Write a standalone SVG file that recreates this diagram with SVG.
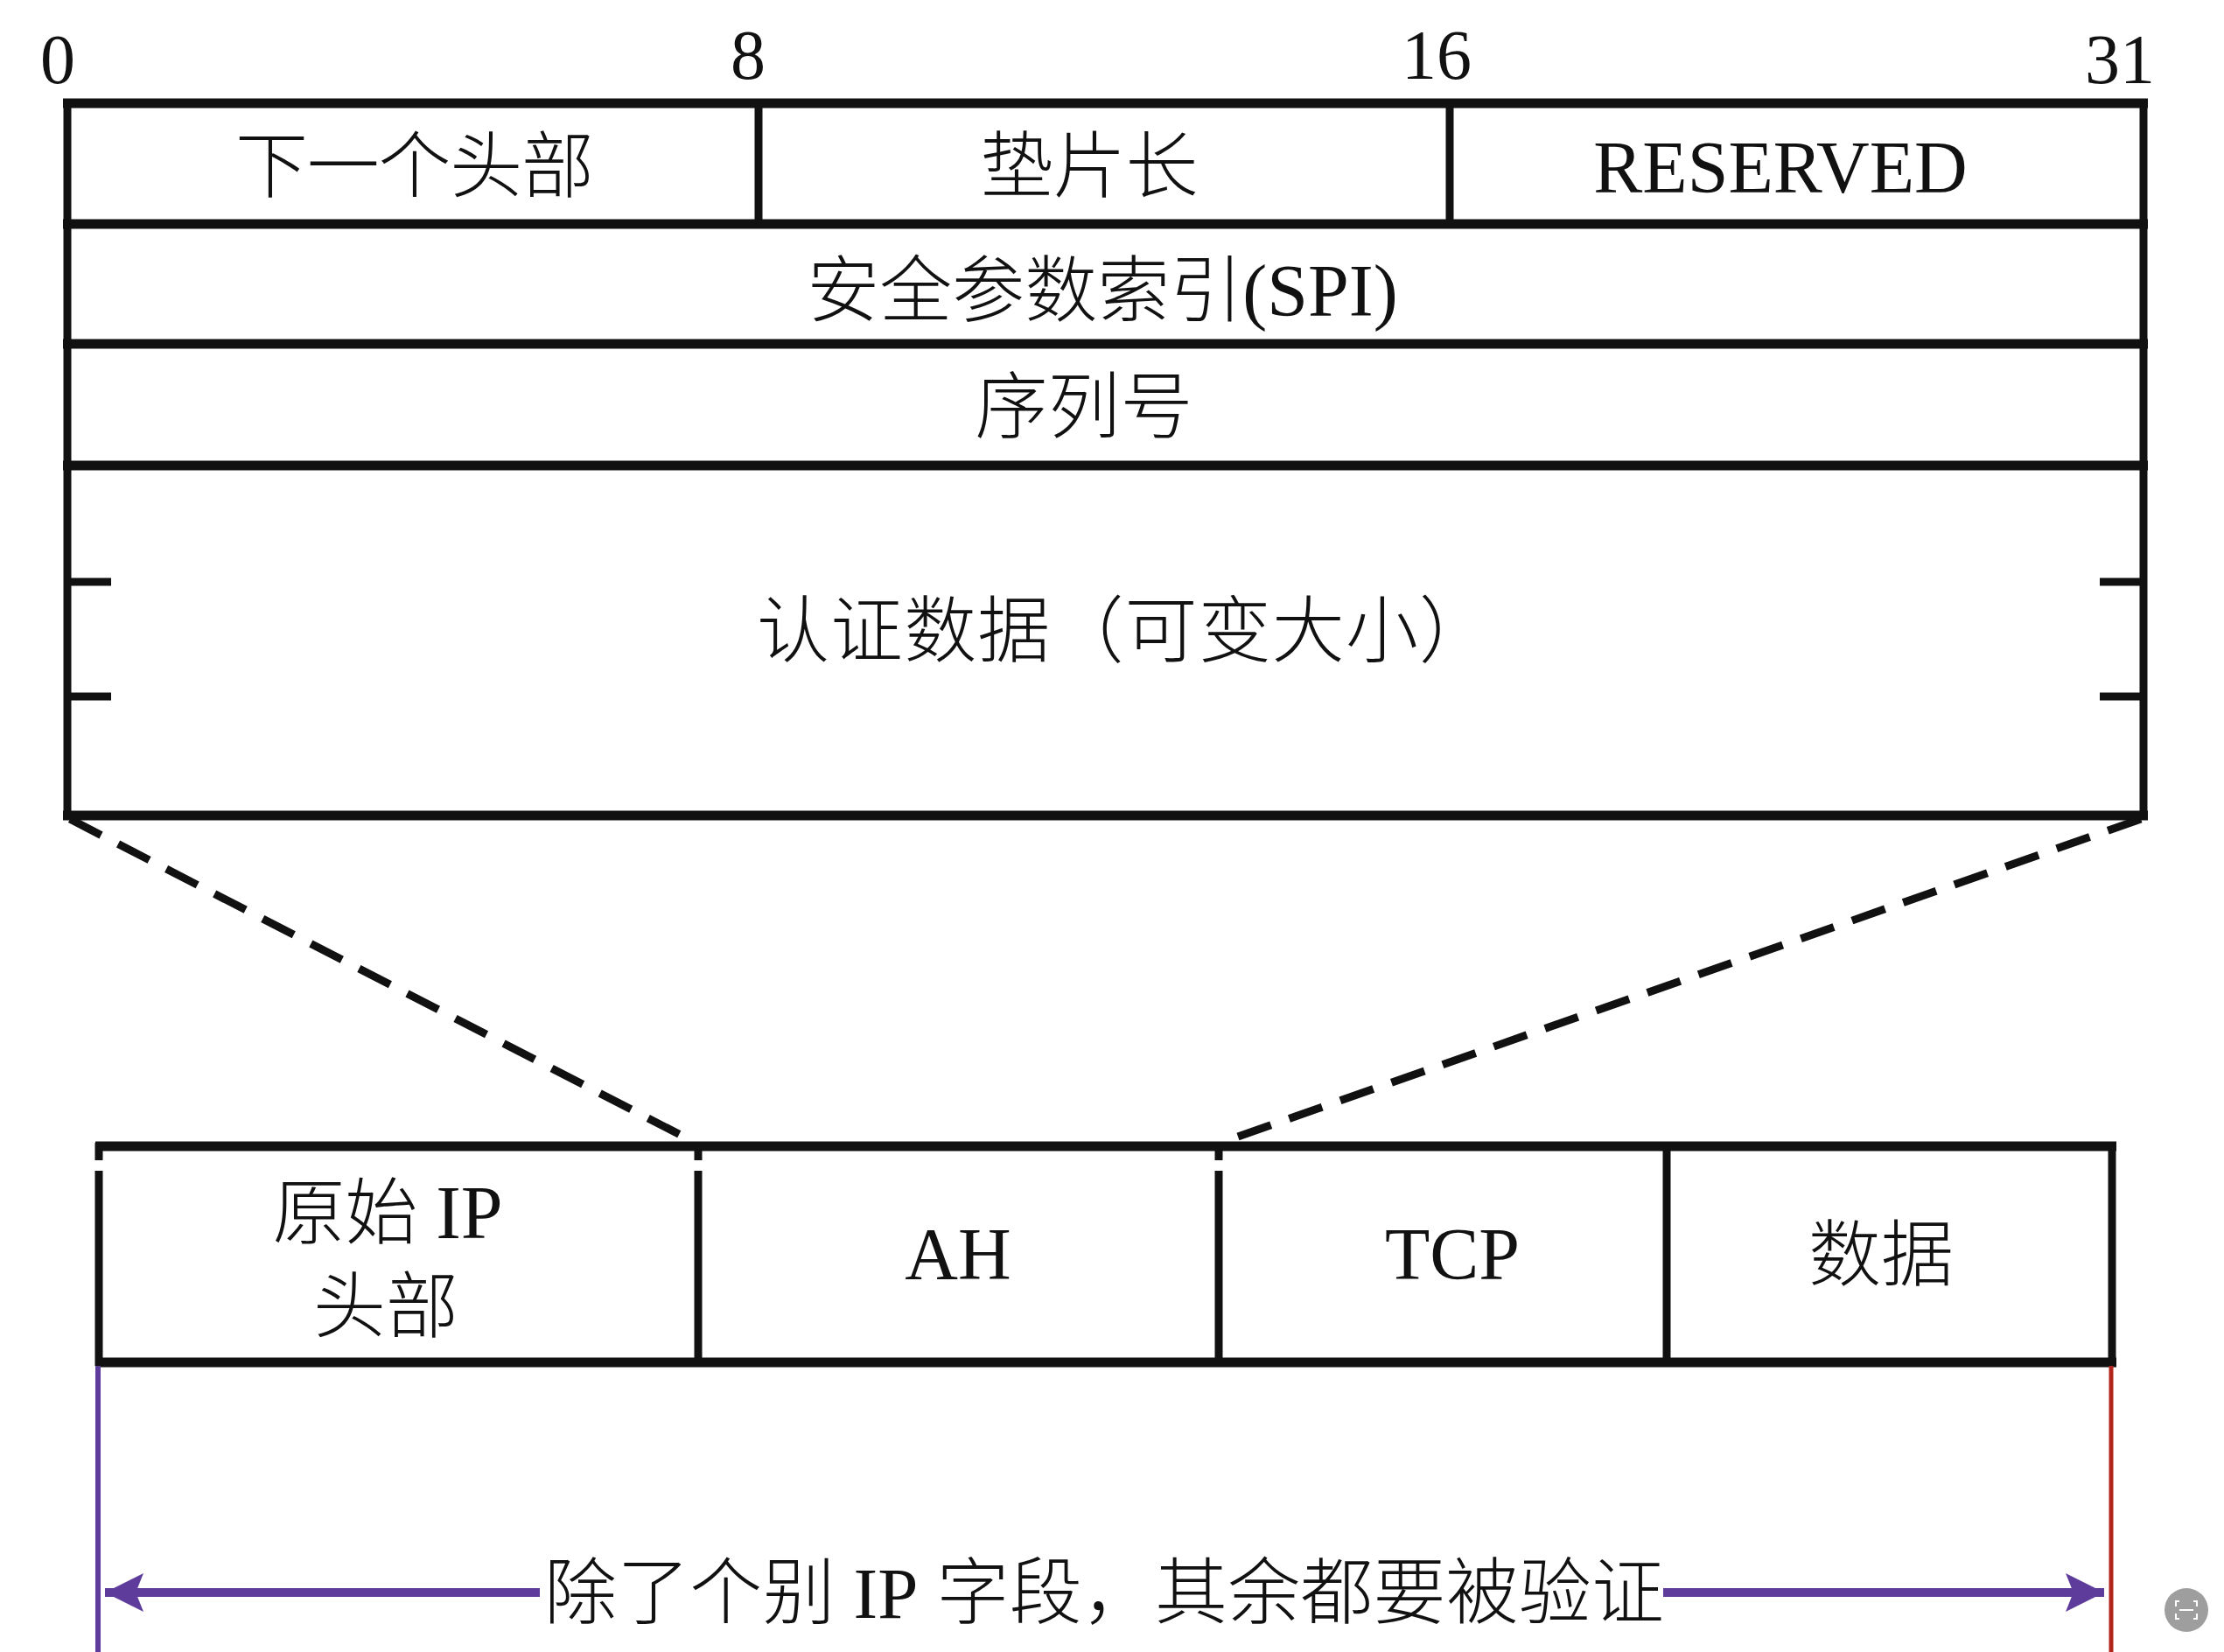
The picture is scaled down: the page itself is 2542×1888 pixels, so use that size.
<svg xmlns="http://www.w3.org/2000/svg" width="2542" height="1888" viewBox="0 0 2542 1888">
<style>
.cjk{font-family:"Liberation Serif","Noto Sans CJK SC",serif;font-weight:300;font-size:83px;fill:#111;text-anchor:middle}
.num{font-family:"Liberation Serif",serif;font-size:80px;fill:#111;text-anchor:middle}
.lat{font-family:"Liberation Serif",serif;font-size:84px;fill:#111;text-anchor:middle}
.h{stroke:#111;stroke-width:11;fill:none}
.v{stroke:#111;stroke-width:9;fill:none}
.dash{stroke:#111;stroke-width:9;stroke-dasharray:40 22;fill:none}
</style>
<defs>
<marker id="ah" viewBox="0 0 10 10" refX="10" refY="5" markerWidth="4.4" markerHeight="4.4" orient="auto-start-reverse" markerUnits="strokeWidth">
<path d="M0,0 L10,5 L0,10 L2,5 Z" fill="#5E3C9C"/>
</marker>
</defs>
<rect width="2542" height="1888" fill="#fff"/>

<g id="bit-labels">
<text class="num" x="66" y="95">0</text>
<text class="num" x="855" y="90">8</text>
<text class="num" x="1642" y="90">16</text>
<text class="num" x="2423" y="95">31</text>
</g>

<g id="ah-header">
<line class="h" x1="72" y1="118" x2="2455" y2="118"/>
<line class="h" x1="72" y1="256" x2="2455" y2="256"/>
<line class="h" x1="72" y1="393" x2="2455" y2="393"/>
<line class="h" x1="72" y1="532" x2="2455" y2="532"/>
<line class="h" x1="72" y1="932" x2="2455" y2="932"/>
<line class="v" x1="77" y1="114" x2="77" y2="936"/>
<line class="v" x1="2450" y1="114" x2="2450" y2="936"/>
<line class="v" x1="867" y1="118" x2="867" y2="256"/>
<line class="v" x1="1657" y1="118" x2="1657" y2="256"/>
<line class="v" x1="77" y1="665" x2="127" y2="665"/>
<line class="v" x1="77" y1="796" x2="127" y2="796"/>
<line class="v" x1="2400" y1="665" x2="2450" y2="665"/>
<line class="v" x1="2400" y1="796" x2="2450" y2="796"/>
</g>

<g id="field-next-header"><text class="cjk" x="474" y="219" textLength="410" lengthAdjust="spacing">下一个头部</text></g>
<g id="field-pad-len"><text class="cjk" x="1245" y="219">垫片长</text></g>
<g id="field-reserved"><text class="lat" x="2035" y="220">RESERVED</text></g>
<g id="field-spi"><text class="cjk" x="1260" y="361">安全参数索引<tspan font-family="Liberation Serif" font-weight="400" font-size="84">(SPI)</tspan></text></g>
<g id="field-seq"><text class="cjk" x="1239" y="494">序列号</text></g>
<g id="field-auth"><text class="cjk" x="1285" y="750" textLength="840" lengthAdjust="spacing">认证数据（可变大小）</text></g>

<g id="connectors">
<line class="dash" x1="80" y1="936" x2="795" y2="1306"/>
<line class="dash" x1="2447" y1="936" x2="1395" y2="1306"/>
</g>

<g id="packet">
<line class="h" x1="109" y1="1310" x2="2419" y2="1310"/>
<line class="h" x1="109" y1="1557" x2="2419" y2="1557"/>
<line class="v" x1="113" y1="1306" x2="113" y2="1326"/>
<line class="v" x1="113" y1="1338" x2="113" y2="1561"/>
<line class="v" x1="798" y1="1306" x2="798" y2="1326"/>
<line class="v" x1="798" y1="1338" x2="798" y2="1557"/>
<line class="v" x1="1393" y1="1306" x2="1393" y2="1326"/>
<line class="v" x1="1393" y1="1338" x2="1393" y2="1557"/>
<line class="v" x1="1905" y1="1310" x2="1905" y2="1557"/>
<line class="v" x1="2414" y1="1306" x2="2414" y2="1561"/>
</g>

<g id="pkt-ip"><text class="cjk" x="443" y="1415">原始 <tspan font-family="Liberation Serif" font-weight="400" font-size="86">IP</tspan></text><text class="cjk" x="441" y="1522">头部</text></g>
<g id="pkt-ah"><text class="lat" x="1095" y="1462">AH</text></g>
<g id="pkt-tcp"><text class="lat" x="1660" y="1462">TCP</text></g>
<g id="pkt-data"><text class="cjk" x="2150" y="1463">数据</text></g>

<g id="auth-span">
<line x1="112" y1="1561" x2="112" y2="1888" stroke="#5E3C9C" stroke-width="6"/>
<line x1="2413" y1="1561" x2="2413" y2="1888" stroke="#B3261E" stroke-width="5"/>
<line x1="617" y1="1820" x2="120" y2="1820" stroke="#5E3C9C" stroke-width="10" marker-end="url(#ah)"/>
<line x1="1901" y1="1820" x2="2405" y2="1820" stroke="#5E3C9C" stroke-width="10" marker-end="url(#ah)"/>
<text class="cjk" x="1262" y="1849" textLength="1280" lengthAdjust="spacing">除了个别 <tspan font-family="Liberation Serif" font-weight="400">IP</tspan> 字段，其余都要被验证</text>
</g>

<g id="corner-icon">
<circle cx="2499" cy="1840" r="25" fill="#9E9E9E"/>
<path d="M2491,1830 h-4 v6 M2507,1830 h4 v6 M2491,1850 h-4 v-6 M2507,1850 h4 v-6 M2491,1840 h16" stroke="#fff" stroke-width="2" fill="none"/>
</g>
</svg>
